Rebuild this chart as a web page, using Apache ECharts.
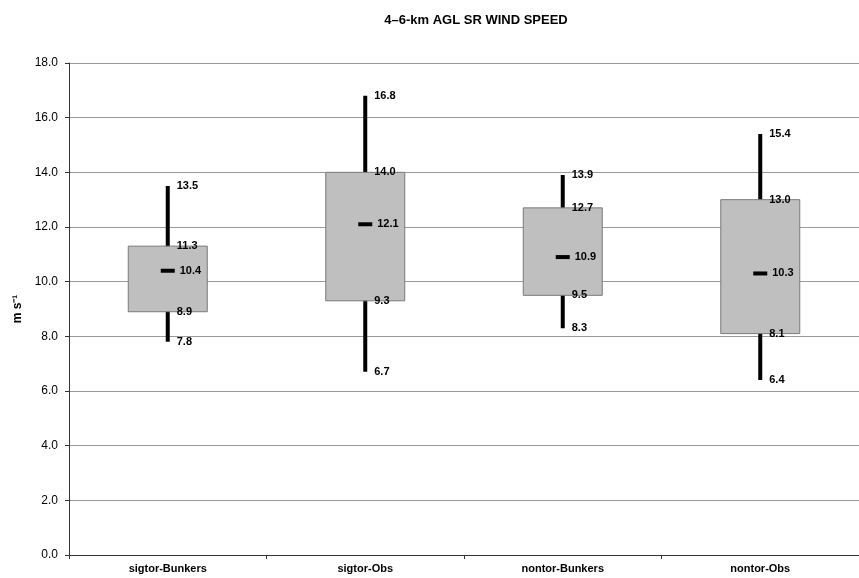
<!DOCTYPE html>
<html>
<head>
<meta charset="utf-8">
<script src="https://cdn.jsdelivr.net/npm/echarts@6/dist/echarts.min.js"></script>
<style>
html, body { margin: 0; padding: 0; background: #fff; }
#chart { width: 859px; height: 578px; }
</style>
</head>
<body>
<div id="chart"></div>
<script>
// data
const categories = ['sigtor-Bunkers', 'sigtor-Obs', 'nontor-Bunkers', 'nontor-Obs']
const whiskerLow = [7.8, 6.7, 8.3, 6.4]
const boxLow = [8.9, 9.3, 9.5, 8.1]
const median = [10.4, 12.1, 10.9, 10.3]
const boxHigh = [11.3, 14.0, 12.7, 13.0]
const whiskerHigh = [13.5, 16.8, 13.9, 15.4]
const yTicks = [0, 2, 4, 6, 8, 10, 12, 14, 16, 18]

const chart = echarts.init(document.getElementById('chart'))

const seriesData = categories.map((c, i) => [i, whiskerLow[i], boxLow[i], median[i], boxHigh[i], whiskerHigh[i]])

const labelFont = 'bold 11px Arial, "Liberation Sans", sans-serif'

function fmt(v) {
  return v.toFixed(1)
}

function renderItem(params, api) {
  const idx = api.value(0)
  const lo = api.coord([idx, api.value(1)])
  const q1 = api.coord([idx, api.value(2)])
  const md = api.coord([idx, api.value(3)])
  const q3 = api.coord([idx, api.value(4)])
  const hi = api.coord([idx, api.value(5)])
  const band = api.size([1, 0])[0]
  const boxW = band * 0.4
  const x = lo[0]
  const txt = (v, y, dx) => ({
    type: 'text',
    style: {
      text: fmt(v),
      x: x + dx,
      y: y,
      font: labelFont,
      fill: '#000',
      verticalAlign: 'middle',
      align: 'left'
    }
  })
  return {
    type: 'group',
    children: [
      // whisker (drawn under the box)
      {
        type: 'line',
        shape: { x1: x, y1: lo[1], x2: x, y2: hi[1] },
        style: { stroke: '#000', lineWidth: 4 }
      },
      {
        type: 'rect',
        shape: { x: x - boxW / 2, y: q3[1], width: boxW, height: q1[1] - q3[1] },
        style: { fill: '#bfbfbf', stroke: '#7a7a7a', lineWidth: 1 }
      },
      // median
      {
        type: 'line',
        shape: { x1: x - 7, y1: md[1], x2: x + 7, y2: md[1] },
        style: { stroke: '#000', lineWidth: 4 }
      },
      txt(api.value(5), hi[1], 9),
      txt(api.value(4), q3[1], 9),
      txt(api.value(3), md[1], 12),
      txt(api.value(2), q1[1], 9),
      txt(api.value(1), lo[1], 9)
    ]
  }
}

const option = {
  animation: false,
  backgroundColor: '#fff',
  title: {
    text: '4–6-km AGL SR WIND SPEED',
    left: 471,
    top: 9,
    textAlign: 'center',
    textStyle: {
      fontFamily: 'Arial, "Liberation Sans", sans-serif',
      fontWeight: 'bold',
      fontSize: 13,
      color: '#000'
    }
  },
  grid: {
    left: 69,
    width: 795,
    top: 63,
    bottom: 23
  },
  xAxis: {
    type: 'category',
    data: categories,
    axisLine: { lineStyle: { color: '#333', width: 1 } },
    axisTick: { show: true, length: 4, lineStyle: { color: '#333' } },
    axisLabel: {
      color: '#000',
      fontWeight: 'bold',
      fontSize: 11,
      fontFamily: 'Arial, "Liberation Sans", sans-serif',
      margin: 8
    }
  },
  yAxis: {
    type: 'value',
    min: yTicks[0],
    max: yTicks[yTicks.length - 1],
    interval: 2,
    name: 'm s⁻¹',
    nameLocation: 'middle',
    nameGap: 43,
    nameRotate: 90,
    nameTextStyle: {
      color: '#000',
      fontWeight: 'bold',
      fontSize: 12,
      fontFamily: 'Arial, "Liberation Sans", sans-serif'
    },
    axisLine: { show: true, lineStyle: { color: '#333', width: 1 } },
    axisTick: { show: true, length: 4, lineStyle: { color: '#333' } },
    axisLabel: {
      color: '#000',
      fontSize: 12,
      fontFamily: 'Arial, "Liberation Sans", sans-serif',
      margin: 11,
      formatter: v => v.toFixed(1)
    },
    splitLine: { show: true, lineStyle: { color: '#9a9a9a', width: 1 } }
  },
  series: [
    {
      type: 'custom',
      renderItem: renderItem,
      encode: { x: 0, y: [1, 2, 3, 4, 5] },
      data: seriesData
    }
  ]
}

chart.setOption(option)
</script>
</body>
</html>
